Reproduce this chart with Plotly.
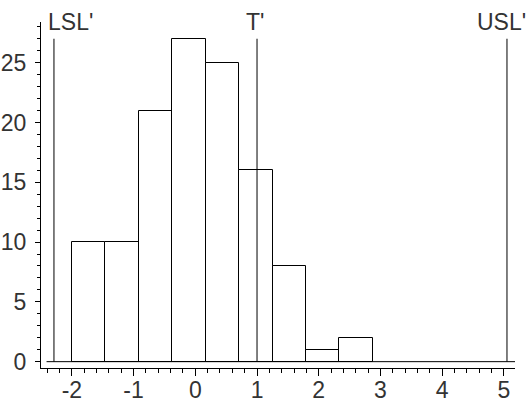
import plotly.graph_objects as go

# Histogram of the transformed measurements
bin_start = -2.0
bin_width = 0.542
counts = [10, 10, 21, 27, 25, 16, 8, 1, 2]
bin_left = [bin_start + i * bin_width for i in range(len(counts))]

# Transformed specification limits and target
spec_names = ["LSL'", "T'", "USL'"]
spec_values = [-2.29, 1.0, 5.05]
spec_height = max(counts)

x_ticks = [-2, -1, 0, 1, 2, 3, 4, 5]
x_tick_text = ["-2", "-1", "0", "1", "2", "3", "4", "5"]
y_ticks = [0, 5, 10, 15, 20, 25]

fig = go.Figure()
fig.add_trace(go.Bar(
    x=bin_left, y=counts, width=[bin_width] * len(counts), offset=0,
    marker=dict(color="white", line=dict(color="black", width=1)),
    showlegend=False, hoverinfo="skip",
))

# zero baseline
fig.add_shape(type="line", xref="x", yref="y", x0=-2.41, x1=5.18, y0=0, y1=0,
              line=dict(color="black", width=1))

# spec lines with their labels
label_anchor = ["left", "center", "center"]
label_shift = [-8, -2, -5]
for name, val, anc, sh in zip(spec_names, spec_values, label_anchor, label_shift):
    fig.add_shape(type="line", xref="x", yref="y", x0=val, x1=val, y0=0, y1=spec_height,
                  line=dict(color="black", width=1))
    fig.add_annotation(x=val, y=spec_height, xref="x", yref="y", text=name,
                       showarrow=False, xanchor=anc, yanchor="bottom",
                       xshift=sh, yshift=2,
                       font=dict(family="Liberation Sans", size=23, color="#333"))

axis_font = dict(family="Liberation Sans", size=23, color="#333")
fig.update_xaxes(
    range=[-2.5, 5.18], tickvals=x_ticks, ticktext=x_tick_text, automargin=False,
    showline=True, linecolor="black", linewidth=1, ticks="outside", ticklen=7,
    tickcolor="black", tickwidth=1, showgrid=False, zeroline=False, tickfont=axis_font,
    ticklabelstandoff=-6,
    minor=dict(dtick=0.2, tick0=0, ticks="outside", ticklen=4, tickcolor="black", showgrid=False),
)
fig.update_yaxes(
    range=[-0.53, 28.4], tickvals=y_ticks, automargin=False,
    showline=True, linecolor="black", linewidth=1, ticks="outside", ticklen=5,
    tickcolor="black", tickwidth=1, showgrid=False, zeroline=False, tickfont=axis_font,
    ticklabelstandoff=4,
    minor=dict(dtick=1, tick0=0, ticks="outside", ticklen=3, tickcolor="black", showgrid=False),
)
fig.update_layout(
    width=530, height=405, margin=dict(l=41, r=15, t=22, b=37),
    paper_bgcolor="white", plot_bgcolor="white", bargap=0,
)
fig.write_html("out.html")
